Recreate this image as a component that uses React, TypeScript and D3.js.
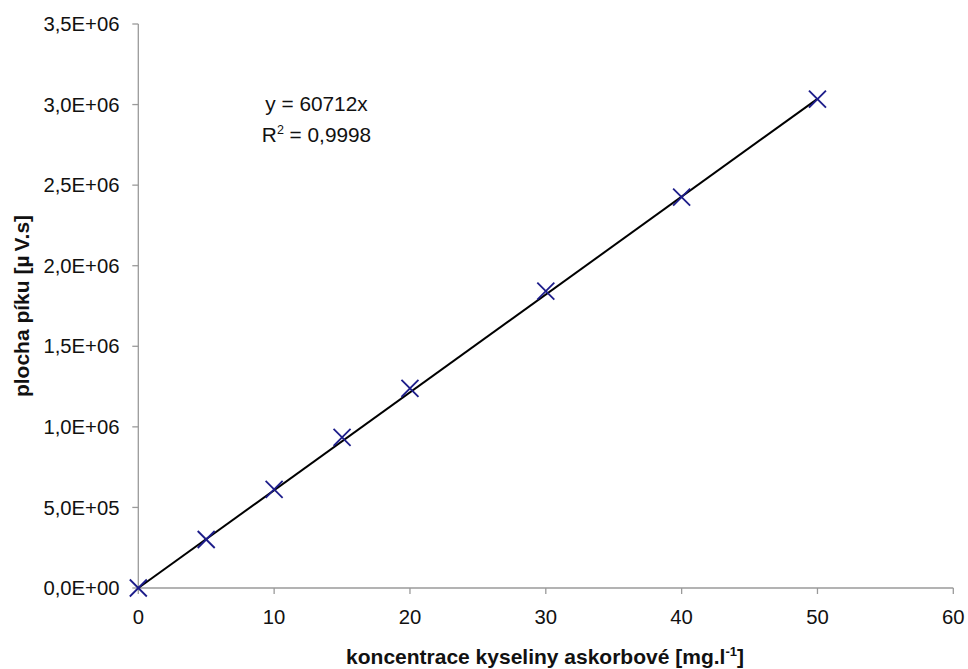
import React from "react";
import * as d3 from "d3";

// Calibration data: ascorbic acid concentration vs. peak area
const concentrations = [0, 5, 10, 15, 20, 30, 40, 50];
const peakAreas = [0, 301000, 612000, 935000, 1239000, 1842000, 2425000, 3034000];
const xTicks = [0, 10, 20, 30, 40, 50, 60];
const yTicks = [0, 500000, 1000000, 1500000, 2000000, 2500000, 3000000, 3500000];
const slope = 60712;
const rSquared = "0,9998";

const W = 968;
const H = 669;

const fmtY = (v: number) => {
  const exp = v === 0 ? 0 : Math.floor(Math.log10(v));
  const mant = v === 0 ? 0 : v / Math.pow(10, exp);
  return `${mant.toFixed(1).replace(".", ",")}E+${String(exp).padStart(2, "0")}`;
};

export default function App() {
  const x = d3.scaleLinear().domain([0, 60]).range([138.3, 953.3]);
  const y = d3.scaleLinear().domain([0, 3500000]).range([588, 24]);
  const font = "'Liberation Sans', Arial, sans-serif";
  const axisColor = "#9a9a9a";
  const markColor = "#1c1c8a";
  const fitLine = d3.line<number>().x((c) => x(c)).y((c) => y(slope * c));
  const s = 8.5;
  const fs = 20.3;

  return (
    <svg width={W} height={H} style={{ position: "absolute", left: 0, top: 0, background: "#fff" }} fontFamily={font}>
      <rect width={W} height={H} fill="#fff" />
      {/* axes */}
      <line x1={x(0)} x2={x(0)} y1={y(3500000)} y2={y(0)} stroke={axisColor} strokeWidth={1.3} />
      <line x1={x(0)} x2={x(60)} y1={y(0)} y2={y(0)} stroke={axisColor} strokeWidth={1.3} />
      {yTicks.map((t) => (
        <g key={`y${t}`}>
          <line x1={x(0) - 6} x2={x(0)} y1={y(t)} y2={y(t)} stroke={axisColor} strokeWidth={1.3} />
          <text x={119.5} y={y(t)} dy="0.35em" textAnchor="end" fontSize={fs} fill="#111">
            {fmtY(t)}
          </text>
        </g>
      ))}
      {xTicks.map((t) => (
        <g key={`x${t}`}>
          <line x1={x(t)} x2={x(t)} y1={y(0)} y2={y(0) + 6} stroke={axisColor} strokeWidth={1.3} />
          <text x={x(t)} y={624} textAnchor="middle" fontSize={fs} fill="#111">
            {t}
          </text>
        </g>
      ))}
      {/* trendline */}
      <path d={fitLine([0, 50]) || ""} fill="none" stroke="#000" strokeWidth={2} />
      {/* markers */}
      {concentrations.map((c, i) => (
        <g key={`m${i}`} stroke={markColor} strokeWidth={1.8}>
          <line x1={x(c) - s} x2={x(c) + s} y1={y(peakAreas[i]) - s} y2={y(peakAreas[i]) + s} />
          <line x1={x(c) - s} x2={x(c) + s} y1={y(peakAreas[i]) + s} y2={y(peakAreas[i]) - s} />
        </g>
      ))}
      {/* equation */}
      <text x={316.5} y={111} textAnchor="middle" fontSize={20.8} fill="#111">
        y = {slope}x
      </text>
      <text x={316.5} y={142} textAnchor="middle" fontSize={20.8} fill="#111">
        R<tspan dy={-8} fontSize={12.5}>2</tspan>
        <tspan dy={8}> = {rSquared}</tspan>
      </text>
      {/* axis titles */}
      <text x={545} y={664} textAnchor="middle" fontSize={21} fontWeight="bold" fill="#111">
        koncentrace kyseliny askorbové [mg.l<tspan dy={-8} fontSize={13}>-1</tspan>
        <tspan dy={8}>]</tspan>
      </text>
      <text
        transform={`translate(29, 306) rotate(-90)`}
        textAnchor="middle"
        fontSize={21}
        fontWeight="bold"
        fill="#111"
      >
        plocha píku [µ<tspan dx={4}>V.s]</tspan>
      </text>
    </svg>
  );
}
